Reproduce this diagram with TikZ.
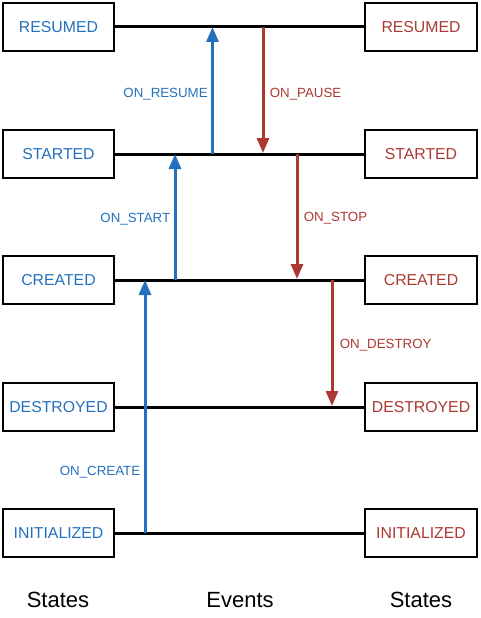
\documentclass[tikz,border=0pt]{standalone}
\usepackage{fontspec}
\setmainfont{Liberation Sans}
\usetikzlibrary{arrows.meta}
\definecolor{evblue}{RGB}{35,112,190}
\definecolor{evred}{RGB}{172,56,50}

\begin{document}
\begin{tikzpicture}[x=1pt, y=-1pt, >={Triangle[length=15pt, width=12pt]},
	state/.style={draw, line width=2pt, minimum width=111pt, minimum height=48pt, inner sep=0pt, font=\fontsize{15.8}{19}\selectfont},
	level/.style={line width=3pt},
	event/.style={->, line width=3pt},
	evlabel/.style={font=\fontsize{13.3}{16}\selectfont, yshift=-2pt},
	footer/.style={font=\fontsize{22}{26}\selectfont}]
	\useasboundingbox (0,0) rectangle (480,618);
	% one row per state, left and right columns
	\foreach \name/\txt/\y in {res/RESUMED/27, sta/STARTED/154, cre/CREATED/280, des/DESTROYED/407, ini/INITIALIZED/533} {
		\node[state, text=evblue] (l\name) at (58.5,\y) {\txt};
		\node[state, text=evred, minimum width=112pt] (r\name) at (421,\y) {\txt};
		\draw[level] (l\name) -- (r\name);
	}
	% ends of the event arrows
	\coordinate (crA) at (145,533); \coordinate (crB) at (145,280);
	\coordinate (stA) at (175,280); \coordinate (stB) at (175,154);
	\coordinate (reA) at (212.5,154); \coordinate (reB) at (212.5,27);
	\coordinate (paA) at (263,27); \coordinate (paB) at (263,153);
	\coordinate (spA) at (297,154); \coordinate (spB) at (297,279);
	\coordinate (deA) at (332,280); \coordinate (deB) at (332,406);
	\draw[event, evblue] (crA) -- node[evlabel, left, pos=0.25] {ON\_CREATE} (crB);
	\draw[event, evblue] (stA) -- node[evlabel, left] {ON\_START} (stB);
	\draw[event, evblue] (reA) -- node[evlabel, left, yshift=-2pt] {ON\_RESUME} (reB);
	\draw[event, evred] (paA) -- node[evlabel, right, xshift=2pt, yshift=-2pt] {ON\_PAUSE} (paB);
	\draw[event, evred] (spA) -- node[evlabel, right, xshift=2pt] {ON\_STOP} (spB);
	\draw[event, evred] (deA) -- node[evlabel, right, xshift=3pt] {ON\_DESTROY} (deB);
	% column titles
	\node[footer] (lstates) at (58,600) {States};
	\node[footer] (events) at (240,600) {Events};
	\node[footer] (rstates) at (421,600) {States};
\end{tikzpicture}
\end{document}
